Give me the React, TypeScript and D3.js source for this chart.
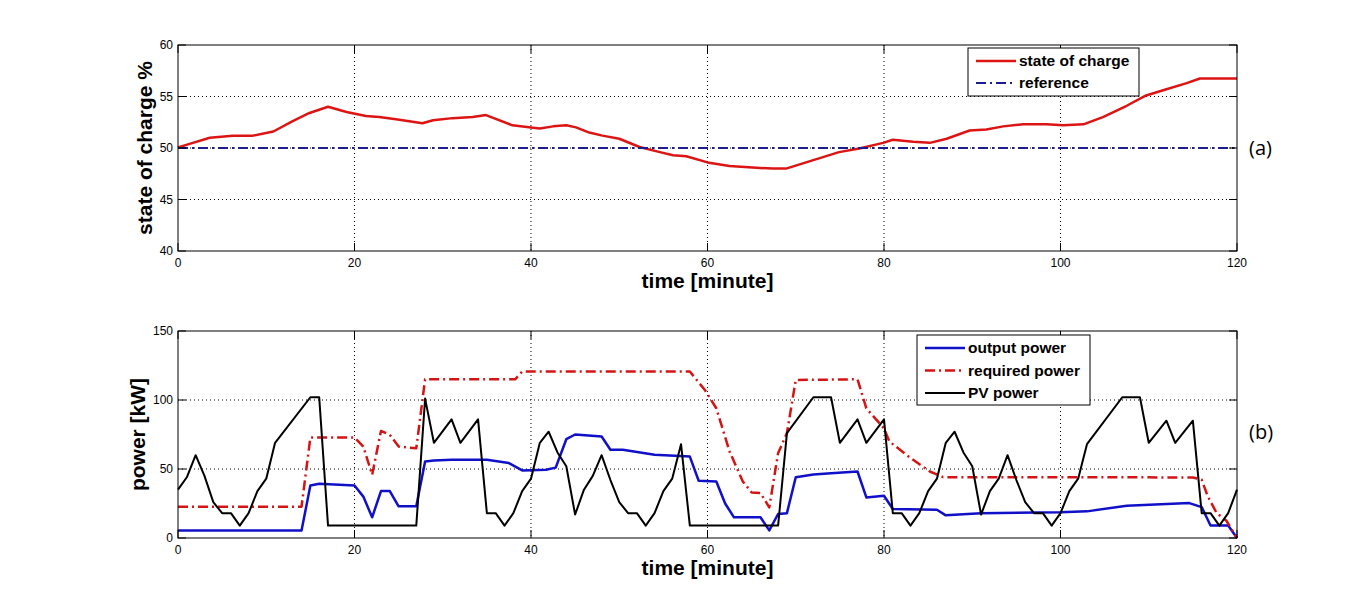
import React from "react";
import * as d3 from "d3";

// minute -> value pairs
const socData: [number, number][] = [
  [0, 50.05], [1.5, 50.45], [3.6, 51.0], [6.2, 51.2], [8.5, 51.2], [10.8, 51.6],
  [13, 52.6], [14.9, 53.4], [17, 54.0], [19.1, 53.5], [21.3, 53.1], [22.8, 53.0],
  [24.7, 52.8], [27.7, 52.4], [28.9, 52.7], [31.1, 52.9], [33.4, 53.0], [34.9, 53.2],
  [37.9, 52.2], [40, 52.0], [41, 51.9], [42.5, 52.1], [44, 52.2], [45.1, 52.0],
  [46.6, 51.5], [48.1, 51.2], [50, 50.9], [52.3, 50.1], [54.6, 49.6], [56.1, 49.3],
  [57.6, 49.2], [60, 48.6], [62.5, 48.25], [65.1, 48.1], [67.4, 48.0], [68.9, 48.0],
  [71.9, 48.8], [74.9, 49.6], [77.2, 49.95], [79.9, 50.5], [81, 50.8], [83.3, 50.6],
  [85.2, 50.5], [87.1, 50.9], [89.7, 51.7], [91.6, 51.8], [93.5, 52.1], [95.8, 52.3],
  [98.4, 52.3], [100.3, 52.2], [102.6, 52.3], [104.8, 53.0], [107.5, 54.1],
  [109.7, 55.1], [112, 55.7], [114.3, 56.3], [115.8, 56.75], [118, 56.75], [120, 56.75],
];
const refData: [number, number][] = [[0, 50], [120, 50]];

const outputPower: [number, number][] = [
  [0, 5.5], [14, 5.5], [15, 38], [16, 39.3], [20, 38], [21, 30], [22, 15], [23, 34],
  [24, 34], [25, 23], [27, 23], [28, 55.5], [29, 56.2], [31, 56.7], [35, 56.7],
  [37.5, 54.3], [39, 49], [41.7, 49.4], [42.8, 51], [44, 71.6], [45, 75], [48, 73.5],
  [49, 64], [50.4, 64], [54, 60.3], [58, 59], [59, 41.5], [61, 41], [62, 25], [63, 15],
  [66, 15], [67, 5.5], [68, 17.4], [69, 18], [70, 44], [72, 46], [74, 47], [77, 48.2],
  [78, 29.4], [80, 30.6], [81, 21], [86, 20.5], [87, 16.4], [91, 18], [100, 18.6],
  [103, 19.3], [107.5, 23.4], [114.6, 25.3], [116, 22.4], [117, 9], [119, 9], [120, 0],
];
const requiredPower: [number, number][] = [
  [0, 22.7], [14, 22.7], [15, 72.8], [20, 72.8], [21, 66.3], [22, 45.8], [23, 77.6],
  [24, 74.8], [25, 66.3], [27, 65], [28, 115], [38.2, 115], [39, 120.6], [58, 120.6],
  [59.7, 107.3], [61, 94], [62.5, 62.7], [64, 41], [65, 33], [66, 32.6], [67, 22.2],
  [68, 61.5], [69, 76], [70, 114.5], [77, 115], [78, 94], [80, 79.5], [80.6, 70],
  [83, 58], [85.2, 48.2], [86.7, 44.1], [115, 43.9], [116, 42.2], [116.7, 30],
  [117.7, 18], [118.8, 12.5], [120, 0],
];
const pvPower: [number, number][] = [
  [0, 35], [1, 44], [2, 60], [3, 45], [4, 26], [5, 18], [6, 18], [7, 9], [8, 18],
  [9, 34], [10, 43], [11, 69], [15, 102], [16, 102], [17, 9], [27, 9], [28, 101],
  [29, 69], [31, 86], [32, 69], [34, 86], [35, 18], [36, 18], [37, 9], [38, 18],
  [39, 34], [40, 43], [41, 69], [42, 77], [43, 62], [44, 52], [45, 17], [46, 35],
  [47, 45], [48, 60], [49, 42], [50, 26], [51, 18], [52, 18], [53, 9], [54, 18],
  [55, 34], [56, 43], [57, 68], [58, 9], [68, 9], [69, 76], [72, 102], [74, 102],
  [75, 69], [77, 86], [78, 69], [80, 86], [81, 18], [82, 18], [83, 9], [84, 18],
  [85, 34], [86, 43], [87, 69], [88, 77], [89, 62], [90, 52], [91, 17], [92, 34],
  [93, 43], [94, 60], [95, 42], [96, 26], [97, 18], [98, 18], [99, 9], [100, 18],
  [101, 34], [102, 43], [103, 68], [107, 102], [109, 102], [110, 69], [112, 85],
  [113, 69], [115, 85], [116, 18], [117, 18], [118, 9], [119, 18], [120, 35],
];

const xTicks = [0, 20, 40, 60, 80, 100, 120];
const socTicks = [40, 45, 50, 55, 60];
const powerTicks = [0, 50, 100, 150];

const FONT = "'Liberation Sans', Arial, sans-serif";
const DASHDOT = "10,4,2,4";
const LEFT = 178;
const RIGHT = 1237;
const TICK = 8;

type Series = {
  data: [number, number][];
  color: string;
  width: number;
  dash?: string;
  label: string;
};

const Panel = ({ top, bottom, domain, yTicks, yLabel, yLabelX, series, legend, tag, tagY }: any) => {
  const x = d3.scaleLinear().domain([0, 120]).range([LEFT, RIGHT]);
  const y = d3.scaleLinear().domain(domain).range([bottom, top]);
  const line = d3.line<[number, number]>()
    .x((d) => x(d[0]))
    .y((d) => y(d[1]));

  const midY = (top + bottom) / 2;

  return (
    <g>
      {/* dotted grid */}
      {xTicks.slice(1, -1).map((t) => (
        <line key={"gx" + t} x1={x(t)} x2={x(t)} y1={top} y2={bottom}
          stroke="#000" strokeWidth={1} strokeDasharray="1,3" />
      ))}
      {yTicks.slice(1, -1).map((t: number) => (
        <line key={"gy" + t} x1={LEFT} x2={RIGHT} y1={y(t)} y2={y(t)}
          stroke="#000" strokeWidth={1} strokeDasharray="1,3" />
      ))}

      {/* series */}
      {series.map((s: Series) => (
        <path key={s.label} d={line(s.data) || ""} fill="none" stroke={s.color}
          strokeWidth={s.width} strokeDasharray={s.dash} strokeLinejoin="round" />
      ))}

      {/* box + inward ticks */}
      <rect x={LEFT} y={top} width={RIGHT - LEFT} height={bottom - top}
        fill="none" stroke="#000" strokeWidth={1} />
      {xTicks.map((t) => (
        <g key={"tx" + t}>
          <line x1={x(t)} x2={x(t)} y1={bottom} y2={bottom - TICK} stroke="#000" />
          <line x1={x(t)} x2={x(t)} y1={top} y2={top + TICK} stroke="#000" />
          <text x={x(t)} y={bottom + 16} textAnchor="middle" fontSize={12} fontFamily={FONT}>{t}</text>
        </g>
      ))}
      {yTicks.map((t: number) => (
        <g key={"ty" + t}>
          <line x1={LEFT} x2={LEFT + TICK} y1={y(t)} y2={y(t)} stroke="#000" />
          <line x1={RIGHT} x2={RIGHT - TICK} y1={y(t)} y2={y(t)} stroke="#000" />
          <text x={LEFT - 5} y={y(t)} dy="0.35em" textAnchor="end" fontSize={12} fontFamily={FONT}>{t}</text>
        </g>
      ))}

      {/* axis labels */}
      <text x={(LEFT + RIGHT) / 2} y={bottom + 37} textAnchor="middle" fontSize={21}
        fontWeight="bold" fontFamily={FONT}>time [minute]</text>
      <text transform={`translate(${yLabelX},${midY}) rotate(-90)`} textAnchor="middle"
        dy="0.35em" fontSize={21} fontWeight="bold" fontFamily={FONT}>{yLabel}</text>
      <text x={1249} y={tagY} fontSize={20} fontFamily="'Open Sans', sans-serif">{tag}</text>

      {/* legend */}
      <rect x={legend.x} y={legend.y} width={legend.w} height={legend.h}
        fill="#fff" stroke="#000" strokeWidth={1} />
      {series.map((s: Series, i: number) => {
        const ly = legend.y + legend.first + i * legend.step;
        return (
          <g key={"lg" + s.label}>
            <line x1={legend.x + 8} x2={legend.x + 48} y1={ly} y2={ly} stroke={s.color}
              strokeWidth={s.width} strokeDasharray={s.dash} />
            <text x={legend.x + 51} y={ly} dy="0.35em" fontSize={15.5} fontWeight="bold"
              fontFamily={FONT}>{s.label}</text>
          </g>
        );
      })}
    </g>
  );
};

const App = () => {
  const topSeries: Series[] = [
    { data: socData, color: "#dd1414", width: 2.5, label: "state of charge" },
    { data: refData, color: "#1c1c8c", width: 2, dash: DASHDOT, label: "reference" },
  ];
  const bottomSeries: Series[] = [
    { data: outputPower, color: "#1010c8", width: 2.5, label: "output power" },
    { data: requiredPower, color: "#d41414", width: 2.5, dash: DASHDOT, label: "required power" },
    { data: pvPower, color: "#000", width: 2, label: "PV power" },
  ];

  return (
    <div style={{ position: "absolute", left: 0, top: 0 }}>
      <svg width={1367} height={604} style={{ display: "block", background: "#fff" }}>
        <Panel top={45} bottom={251} domain={[40, 60]} yTicks={socTicks}
          yLabel="state of charge %" yLabelX={145} series={topSeries}
          legend={{ x: 968, y: 48, w: 171, h: 48, first: 13, step: 22 }}
          tag="(a)" tagY={155} />
        <Panel top={331} bottom={538} domain={[0, 150]} yTicks={powerTicks}
          yLabel="power [kW]" yLabelX={138} series={bottomSeries}
          legend={{ x: 917, y: 335, w: 173, h: 70, first: 13, step: 22.5 }}
          tag="(b)" tagY={439} />
      </svg>
    </div>
  );
};

export default App;
